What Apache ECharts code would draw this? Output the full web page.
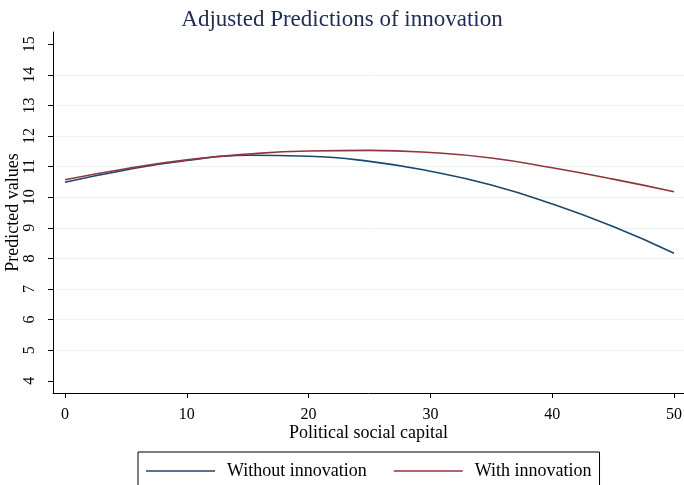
<!DOCTYPE html>
<html>
<head>
<meta charset="utf-8">
<script src="https://cdn.jsdelivr.net/npm/echarts@6/dist/echarts.min.js"></script>
<style>
  html, body { margin: 0; padding: 0; background: #fff; }
  #chart { width: 684px; height: 485px; }
</style>
</head>
<body>
<div id="chart"></div>
<script>
// margins at political social capital = 0(5)50
const xValues = [0, 5, 10, 15, 20, 25, 30, 35, 40, 45, 50];
const withoutInnovation = [10.49, 10.89, 11.20, 11.37, 11.34, 11.17, 10.85, 10.40, 9.78, 9.04, 8.17];
const withInnovation = [10.57, 10.93, 11.22, 11.41, 11.51, 11.53, 11.46, 11.28, 10.96, 10.59, 10.18];
const xTicks = [0, 10, 20, 30, 40, 50];
const yTicks = [4, 5, 6, 7, 8, 9, 10, 11, 12, 13, 14, 15];
const yGrid = [5, 6, 7, 8, 9, 10, 11, 12, 13, 14];

const serif = 'Liberation Serif';
const pairs = (ys) => xValues.map((x, i) => [x, ys[i]]);

const chart = echarts.init(document.getElementById('chart'), null, { renderer: 'canvas' });

chart.setOption({
  animation: false,
  backgroundColor: '#fff',
  title: {
    text: 'Adjusted Predictions of innovation',
    left: 'center',
    top: 3,
    textStyle: { fontFamily: serif, fontSize: 23, fontWeight: 'normal', color: '#1e2c53' }
  },
  legend: {
    left: 138,
    top: 452,
    padding: [10, 8, 30, 8],
    borderColor: '#000',
    borderWidth: 1,
    icon: 'rect',
    itemWidth: 69,
    itemHeight: 1.5,
    itemGap: 27,
    textStyle: { fontFamily: serif, fontSize: 18, color: '#000', padding: [0, 0, 0, 7] },
    data: ['Without innovation', 'With innovation']
  },
  grid: { left: 53, right: 0, top: 32, bottom: 92, containLabel: false, outerBoundsMode: 'none' },
  xAxis: {
    type: 'value',
    min: -0.985,
    max: 50.82,
    name: 'Political social capital',
    nameLocation: 'middle',
    nameGap: 31,
    nameMoveOverlap: false,
    nameTextStyle: { fontFamily: serif, fontSize: 18, color: '#000' },
    axisLine: { show: true, onZero: false, lineStyle: { color: '#000', width: 1 } },
    axisTick: { show: true, length: 5, customValues: xTicks, lineStyle: { color: '#000' } },
    axisLabel: { customValues: xTicks, margin: 14, fontFamily: serif, fontSize: 16, color: '#000' },
    splitLine: { show: false }
  },
  yAxis: [{
    type: 'value',
    min: 3.6,
    max: 15.4,
    name: 'Predicted values',
    nameLocation: 'middle',
    nameGap: 31,
    nameMoveOverlap: false,
    nameTextStyle: { fontFamily: serif, fontSize: 18, color: '#000' },
    axisLine: { show: true, onZero: false, lineStyle: { color: '#000', width: 1 } },
    axisTick: { show: true, length: 5, customValues: yTicks, lineStyle: { color: '#000' } },
    axisLabel: { customValues: yTicks, rotate: 90, margin: 15, fontFamily: serif, fontSize: 16, color: '#000' },
    splitLine: { show: false }
  }, {
    type: 'value',
    min: 3.6,
    max: 15.4,
    position: 'left',
    axisLine: { show: false, onZero: false },
    axisTick: { show: false, customValues: yGrid },
    axisLabel: { show: false },
    splitLine: { show: true, lineStyle: { color: '#eaf2f3', width: 1 } }
  }],
  series: [{
    name: 'Without innovation',
    type: 'line',
    smooth: true,
    symbol: 'none',
    yAxisIndex: 0,
    data: pairs(withoutInnovation),
    lineStyle: { color: '#1a476f', width: 1.6 },
    itemStyle: { color: '#1a476f' }
  }, {
    name: 'With innovation',
    type: 'line',
    smooth: true,
    symbol: 'none',
    yAxisIndex: 0,
    data: pairs(withInnovation),
    lineStyle: { color: '#90353b', width: 1.6 },
    itemStyle: { color: '#90353b' }
  }]
});
</script>
</body>
</html>
